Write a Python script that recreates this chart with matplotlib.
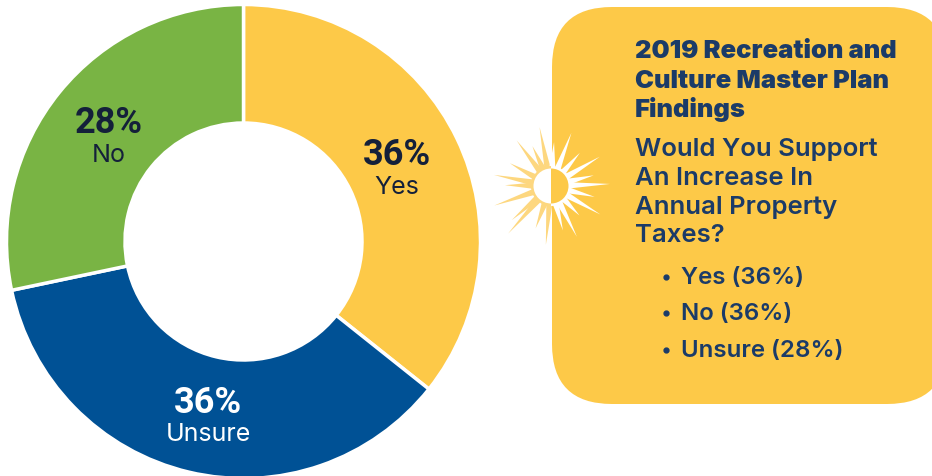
import numpy as np
import matplotlib
matplotlib.use("Agg")
import matplotlib.pyplot as plt
from matplotlib.patches import FancyBboxPatch, Wedge, Polygon

plt.rcParams['font.family'] = ['Inter', 'DejaVu Sans']

# Chart data
labels = ["Yes", "Unsure", "No"]
percent_text = ["36%", "36%", "28%"]
# slice sizes as measured from the ring
values = [35.7, 36.0, 28.3]
colors = ["#fdc948", "#005195", "#79b444"]
label_colors = ["#14203a", "#ffffff", "#14203a"]

title_lines = ["2019 Recreation and", "Culture Master Plan", "Findings"]
question_lines = ["Would You Support", "An Increase In", "Annual Property", "Taxes?"]
bullets = ["Yes (36%)", "No (36%)", "Unsure (28%)"]

# sun spikes: angle in degrees (from east, counter clockwise), length in px
spike_angles = [101, 127, 115, 151, 169, 179, 199, 221, 228, 250, 265,
                 86, 69, 49, 31, 14, 2, -14, -30, -46, -63, -75]
spike_lengths = [60, 57, 44, 47, 58, 46, 60, 52, 64, 45, 59,
                 44, 57, 44, 57, 44, 59, 45, 57, 41, 57, 46]

W, H = 932, 477
fig = plt.figure(figsize=(W / 100, H / 100), dpi=100)

# background axes in pixel coordinates
bg = fig.add_axes([0, 0, 1, 1])
bg.set_xlim(0, W)
bg.set_ylim(H, 0)
bg.axis("off")

# donut
cx, cy, r = 243.5, 242.5, 237
ax = fig.add_axes([(cx - r) / W, 1 - (cy + r) / H, 2 * r / W, 2 * r / H])
wedges, _ = ax.pie(values, colors=colors, startangle=90, counterclock=False, radius=1,
                   wedgeprops=dict(width=0.5, edgecolor="white", linewidth=2.5))
ax.set_xlim(-1, 1)
ax.set_ylim(-1, 1)
ax.set_zorder(0)
bg.set_zorder(1)
bg.patch.set_alpha(0)

# labels on the ring
label_pos = [(397, 155, 188), (208, 403, 435), (109, 123, 156)]
for i in range(len(labels)):
    x, y1, y2 = label_pos[i]
    bg.text(x, y1, percent_text[i], fontsize=26, fontweight="bold", family=["Roboto", "DejaVu Sans"],
            color=label_colors[i], ha="center", va="center", zorder=5)
    bg.text(x, y2, labels[i], fontsize=18, color=label_colors[i], ha="center", va="center", zorder=5)

# panel
panel = FancyBboxPatch((612, 68), 275, 277, boxstyle="round,pad=60,rounding_size=60",
                       fc="#fdc948", ec="none")
bg.add_patch(panel)

# sun
sx, sy = 551, 187
for ang, ln in zip(spike_angles, spike_lengths):
    a = np.radians(ang)
    w = np.radians(10)
    pts = [(sx + 18 * np.cos(a - w), sy - 18 * np.sin(a - w)),
           (sx + ln * np.cos(a), sy - ln * np.sin(a)),
           (sx + 18 * np.cos(a + w), sy - 18 * np.sin(a + w))]
    col = "#fdd77f" if np.cos(a) < -0.02 else "white"
    bg.add_patch(Polygon(pts, closed=True, fc=col, ec="none", zorder=3))
bg.add_patch(Wedge((sx, sy), 20, 90, 270, fc="#fdd77f", ec="none", zorder=3))
bg.add_patch(Wedge((sx, sy), 20, -90, 90, fc="white", ec="none", zorder=3))
bg.add_patch(Wedge((sx, sy), 17.5, 90, 270, fc="white", ec="none", zorder=4))
bg.add_patch(Wedge((sx, sy), 17.5, -90, 90, fc="#fdc948", ec="none", zorder=4))

# panel text
navy = "#1b3b68"
for y, t in zip([52, 81, 110], title_lines):
    bg.text(635, y, t, fontsize=18.4, fontweight="black", color=navy, va="center", zorder=5)
for y, t in zip([150, 179, 208, 236], question_lines):
    bg.text(635, y, t, fontsize=18.5, fontweight="semibold", color=navy, va="center", zorder=5)
for y, t in zip([278, 314, 351], bullets):
    bg.plot([665.5], [y], "o", ms=3.5, color=navy, zorder=5)
    bg.text(681, y, t, fontsize=17.3, fontweight="semibold", color=navy, va="center", zorder=5)

fig.savefig("out.png", dpi=100)
